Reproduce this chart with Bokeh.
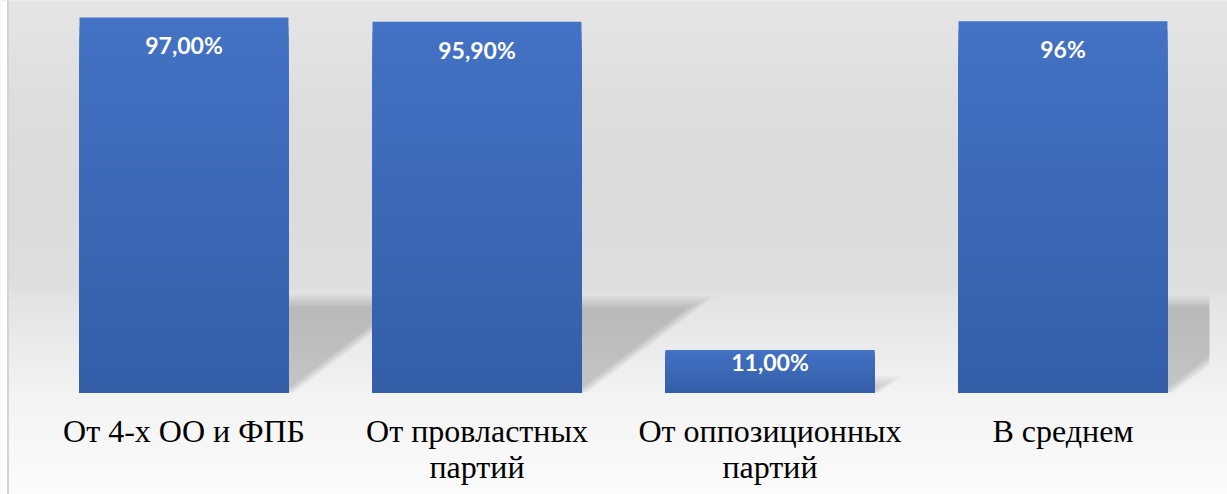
import numpy as np
from bokeh.plotting import figure
from bokeh.models import Range1d, ColumnDataSource, Span
from bokeh.core.properties import value
from bokeh.embed import file_html
from bokeh.resources import INLINE

# ---------------- data ----------------
categories = ["От 4-х ОО и ФПБ", "От провластных\nпартий",
              "От оппозиционных\nпартий", "В среднем"]
values = [97.0, 95.9, 11.0, 96.0]
value_labels = ["97,00%", "95,90%", "11,00%", "96%"]

# ---------------- layout / style ----------------
W, H = 1227, 494
PX_X = 293.0              # px per category slot
PX_Y = 3.866              # px per percent
X0_PX = 183.5             # px from figure left to first category centre
BASE_PX = 392             # px from figure top to zero line
BAR_W = 0.713

x_start = -X0_PX / PX_X
x_end = (W - X0_PX) / PX_X
y_end = BASE_PX / PX_Y
y_start = -(H - BASE_PX) / PX_Y

p = figure(width=W, height=H,
           x_range=Range1d(x_start, x_end), y_range=Range1d(y_start, y_end),
           output_backend="svg", toolbar_location=None,
           x_axis_location=None, y_axis_location=None, min_border=0)
p.grid.visible = False
p.outline_line_color = None
p.background_fill_color = "#e2e2e2"
p.border_fill_color = "white"

# background vertical gradient (screen y -> grey level)
stops_y = np.array([0, 100, 200, 285, 300, 392, 494], dtype=float)
stops_g = np.array([230, 222, 219, 223, 228, 243, 252], dtype=float)
rows = np.arange(H)
wy = H - rows - 0.5
g = np.interp(wy, stops_y, stops_g).astype(np.uint8)
img = np.empty((H, 2), dtype=np.uint32)
view = img.view(dtype=np.uint8).reshape((H, 2, 4))
for c in range(3):
    view[:, :, c] = g[:, None]
view[:, :, 3] = 255
p.image_rgba(image=[img], x=x_start, y=y_start,
             dw=x_end - x_start, dh=y_end - y_start)

# white strip left of the chart border
p.add_layout(Span(location=x_start + 3.0 / PX_X, dimension="height",
                  line_color="white", line_width=7))

# ---------------- perspective shadows ----------------
idx = np.arange(len(values))
vals = np.array(values)
SH_K = 0.245                       # shadow height / bar height
SLOPE = 1.32 * PX_Y / PX_X         # x units per y unit along shadow diagonal
x_clip = len(values) - 0.5


def clip_poly(pts, xmax):
    out = []
    n = len(pts)
    for i in range(n):
        cx, cy = pts[i]
        nx, ny = pts[(i + 1) % n]
        cin, nin = cx <= xmax, nx <= xmax
        if cin:
            out.append((cx, cy))
        if cin != nin:
            t = (xmax - cx) / (nx - cx)
            out.append((xmax, cy + t * (ny - cy)))
    return out


for d_px in [-6, -4, -2, 0, 2, 4, 6]:
    xs_l, ys_l = [], []
    for i, v in zip(idx, vals):
        xl, xr = i - BAR_W / 2, i + BAR_W / 2
        top = max(SH_K * v + d_px / PX_Y, 0.3)
        e = d_px * 1.0 / PX_X
        pts = [(xl, 0), (xr + e, 0), (xr + e + SLOPE * top, top),
               (xl + SLOPE * top, top)]
        pts = clip_poly(pts, x_clip)
        xs_l.append([q[0] for q in pts])
        ys_l.append([q[1] for q in pts])
    p.patches(xs=xs_l, ys=ys_l, fill_color="black", fill_alpha=0.027,
              line_color=None)

# ---------------- gradient bars ----------------
top_rgb = np.array([68, 114, 196], dtype=float)
bot_rgb = np.array([52, 94, 168], dtype=float)
N = 40
bx, btop, bcol = [], [], []
for k in range(N):
    f_hi = (N - k) / N
    f_mid = (N - k - 0.5) / N
    rgb = bot_rgb + (top_rgb - bot_rgb) * f_mid
    col = "#%02x%02x%02x" % tuple(int(round(c)) for c in rgb)
    for i, v in zip(idx, vals):
        bx.append(i)
        btop.append(v * f_hi)
        bcol.append(col)
p.vbar(x="x", top="top", bottom=0, width=BAR_W, fill_color="color",
       line_color=None, source=ColumnDataSource(dict(x=bx, top=btop, color=bcol)))

# ---------------- value labels ----------------
label_offsets = [28, 28, 12, 28]
p.text(x="x", y="y", text="t", y_offset="off",
       source=ColumnDataSource(dict(x=idx, y=vals, t=value_labels, off=label_offsets)),
       text_color="white", text_font=value("Lato"), text_font_style="bold",
       text_font_size="23px", text_align="center", text_baseline="middle")

# ---------------- category labels ----------------
p.text(x=idx, y=[0] * len(categories), text=categories, y_offset=20,
       text_color="black", text_font=value("Liberation Serif"),
       text_font_size="32px", text_align="center", text_baseline="top",
       text_line_height=1.02)

# left chart border
p.add_layout(Span(location=x_start + 7.5 / PX_X, dimension="height",
                  line_color="#d4d4d4", line_width=2))

open("out.html", "w").write(file_html(p, INLINE))
